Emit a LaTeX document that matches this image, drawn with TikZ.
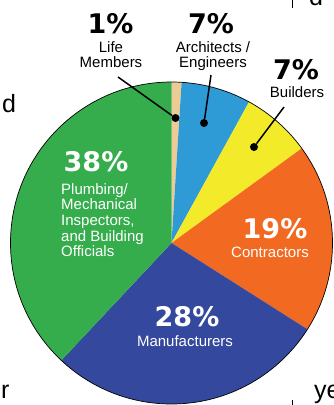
\documentclass[tikz,border=0pt]{standalone}
\usepackage{fontspec}
\setmainfont{Liberation Sans}
\newfontfamily\pctfont{DejaVu Sans}
\usetikzlibrary{positioning}

\definecolor{lifetan}{HTML}{EDCB94}
\definecolor{archblue}{HTML}{2E9BD6}
\definecolor{buildyellow}{HTML}{F3EB29}
\definecolor{controrange}{HTML}{F26A22}
\definecolor{manunavy}{HTML}{34489D}
\definecolor{plumbgreen}{HTML}{35AD4C}

\tikzset{
	pct/.style={font=\pctfont\bfseries\fontsize{27}{27}\selectfont, inner sep=0pt},
	lbl/.style={font=\fontsize{15}{15}\selectfont, align=center, inner sep=0pt},
	dotmark/.style={circle, fill=black, inner sep=0pt, minimum size=8pt},
	lead/.style={line width=1.5pt},
	stray/.style={font=\fontsize{25}{25}\selectfont, inner sep=0pt, anchor=base west}
}

\begin{document}
\begin{tikzpicture}[x=1pt, y=1pt]
		\useasboundingbox (0,0) rectangle (333,-405);
		\clip (0,0) rectangle (333,-405);
		%Reste vom Seitentext
		\node[stray] (sd) at (2,-112) {d};
		\node[stray] (sr) at (1,-398) {r};
		\node[stray] (sye) at (314,-398) {ye};
		\node[stray] (sdtop) at (309,-5) {d};
		\draw[line width=0.8pt] (292,0) -- (292,-8);
		\draw[line width=0.8pt] (292,-400) -- (292,-405);
		%Kreisdiagramm zeichnen
		\coordinate (ctr) at (171.5,-243);
		\def\R{161pt}
		\foreach \a/\b/\c in {90/86.4/lifetan, 86.4/61.2/archblue, 61.2/36/buildyellow, 36/-32.4/controrange, -32.4/-133.2/manunavy, -133.2/-270/plumbgreen}
		{
			\fill[\c] (ctr) -- ++(\a:\R) arc[start angle=\a, end angle=\b, radius=\R] -- cycle;
		}
		\draw[line width=0.7pt] (ctr) circle[radius=\R];
		%Beschriftung aussen
		\node[pct] (lifepct) at (110.5,-24) {1\%};
		\node[lbl, anchor=north] (lifelbl) at (111,-41.5) {Life\\Members};
		\node[pct] (archpct) at (211,-24) {7\%};
		\node[lbl, anchor=north] (archlbl) at (213,-41.5) {Architects /\\Engineers};
		\node[pct] (buildpct) at (296,-70) {7\%};
		\node[lbl, anchor=north] (buildlbl) at (297,-86) {Builders};
		%Punkte und Linien
		\node[dotmark] (lifedot) at (175.5,-118) {};
		\node[dotmark] (archdot) at (204,-123) {};
		\node[dotmark] (builddot) at (254,-147) {};
		\coordinate (lifetop) at (118,-77);
		\coordinate (archtop) at (211,-75);
		\coordinate (buildtop) at (284,-107);
		\draw[lead] (lifetop) -- (lifedot);
		\draw[lead] (archtop) -- (archdot);
		\draw[lead] (buildtop) -- (builddot);
		%Beschriftung innen
		\node[pct, white] (plumbpct) at (96,-162) {38\%};
		\node[lbl, white, align=left, anchor=north west, font=\fontsize{15}{15.7}\selectfont] (plumblbl) at (61,-183) {Plumbing/\\Mechanical\\Inspectors,\\and Building\\Officials};
		\node[pct, white] (contrpct) at (275,-229) {19\%};
		\node[lbl, white] (contrlbl) at (270,-252.5) {Contractors};
		\node[pct, white] (manupct) at (187,-317) {28\%};
		\node[lbl, white] (manulbl) at (185,-341) {Manufacturers};
	\end{tikzpicture}
\end{document}
